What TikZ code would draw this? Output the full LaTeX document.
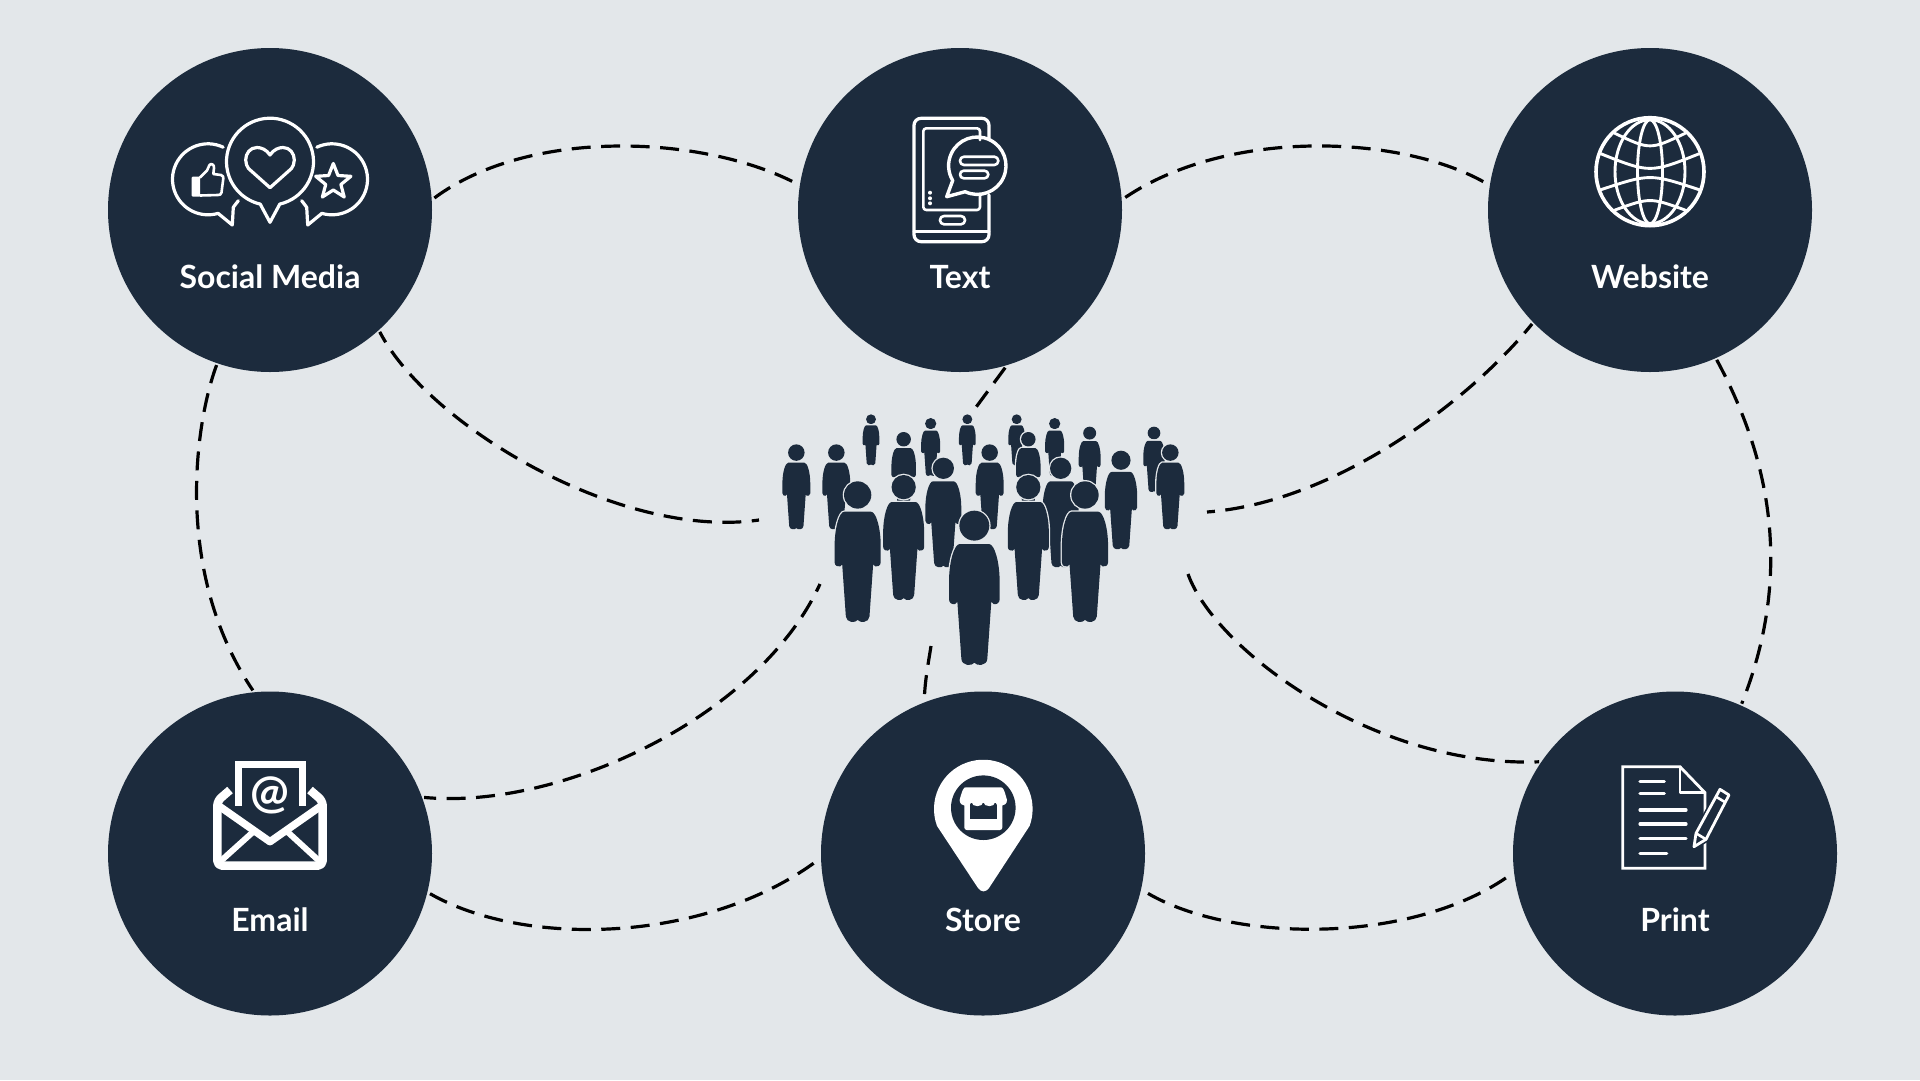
\documentclass[tikz,border=0pt]{standalone}
\usepackage{fontspec}
\setmainfont{Lato}
\definecolor{bgc}{HTML}{E3E7EA}
\definecolor{navy}{HTML}{1C2B3D}
\newcommand{\crowdfig}[3]{%
  \pgfmathsetmacro{\fx}{760+#1/3}%
  \pgfmathsetmacro{\fy}{400+#2/3}%
  \pgfmathsetmacro{\fs}{(#3-#2)/300}%
  \begin{scope}[shift={(\fx,\fy)},scale=\fs]
    \path[person] (0,9.7) circle (9.7);
    \path[person] (-9.5,21.6) -- (9.5,21.6) .. controls (13,21.6) and (16.4,33) .. (16.4,46) -- (16.4,57.5)
      .. controls (16.4,60) and (14,61) .. (12.5,60.5) -- (11,59) -- (8.4,96)
      .. controls (8.2,100.5) and (1.5,101) .. (0,98.5) .. controls (-1.5,101) and (-8.2,100.5) .. (-8.4,96)
      -- (-11,59) -- (-12.5,60.5) .. controls (-14,61) and (-16.4,60) .. (-16.4,57.5) -- (-16.4,46)
      .. controls (-16.4,33) and (-13,21.6) .. (-9.5,21.6) -- cycle;
  \end{scope}}
\tikzset{
  hub/.style={circle,fill=navy,minimum size=324pt,inner sep=0pt,outer sep=2pt},
  lbl/.style={anchor=base,text=white,font=\fontsize{32}{36}\selectfont\bfseries,inner sep=0pt},
  link/.style={draw=black,line width=3.2pt,dash pattern=on 19pt off 10.5pt},
  icon/.style={draw=white,line width=3.2pt,line cap=round,line join=round},
  person/.style={fill=navy,preaction={draw=bgc,line width=2.6pt}}
}
\begin{document}
\begin{tikzpicture}[x=1pt,y=-1pt]
\useasboundingbox (0,0) rectangle (1920,1080);
\fill[bgc] (0,0) rectangle (1920,1080);

% hubs
\node[hub] (soc) at (270,210) {};
\node[hub] (txt) at (960,210) {};
\node[hub] (web) at (1650,210) {};
\node[hub] (eml) at (270,853.5) {};
\node[hub] (sto) at (983,853.5) {};
\node[hub] (prt) at (1675,853.5) {};

% connector ends at the crowd
\coordinate (cl) at (759,520);
\coordinate (cr) at (1207,512);
\coordinate (ct) at (971,414);
\coordinate (cbl) at (820,584);
\coordinate (cb) at (931,646);
\coordinate (cbr) at (1188,574);

% connectors
\draw[link,shorten <=1pt] (soc.4.5) .. controls (530,127) and (705,135) .. (txt.171);
\draw[link,shorten <=2pt] (txt.4.5) .. controls (1230,127) and (1405,135) .. (web.171);
\draw[link,dash phase=7pt] (soc.-48.5) .. controls (428,425) and (620,540) .. (cl);
\draw[link] (txt.-74) -- (ct);
\draw[link,dash phase=7pt] (web.-136.5) .. controls (1475,395) and (1340,502) .. (cr);
\draw[link] (soc.-109) .. controls (196,420) and (172,570) .. (eml.96.7);
\draw[link] (web.-66) .. controls (1768,455) and (1795,570) .. (prt.66.5);
\draw[link,dash phase=7pt] (eml.20.7) .. controls (560,810) and (759,717) .. (cbl);
\draw[link] (cb) .. controls (928,665) and (925,680) .. (sto.111.6);
\draw[link] (cbr) .. controls (1215,650) and (1375,768) .. (prt.146);
\draw[link,shorten <=1pt,shorten >=4pt] (eml.-14) .. controls (525,948) and (705,943) .. (sto.182.5);
\draw[link,shorten <=6pt,shorten >=2pt] (sto.-13.7) .. controls (1233,943) and (1413,945) .. (prt.187.4);

% labels
\node[lbl] (socl) at (270,288) {Social Media};
\node[lbl] (txtl) at (960,288) {Text};
\node[lbl] (webl) at (1650,288) {Website};
\node[lbl] (emll) at (270,931) {Email};
\node[lbl] (stol) at (983,931) {Store};
\node[lbl] (prtl) at (1675,931) {Print};

% social media icon
\draw[icon] (270,161.7)++(77:43.5) arc[start angle=77,end angle=-257,radius=43.5] -- (270,222.3) -- cycle;
\draw[icon] (270,155) .. controls (273.5,149.5) and (279,147.5) .. (283,147.5)
  .. controls (290,147.5) and (294.3,153.5) .. (294.3,160) .. controls (294.3,163.5) and (293,166.5) .. (291.5,168.5)
  -- (270,187.7) -- (248.5,168.5) .. controls (247,166.5) and (245.7,163.5) .. (245.7,160)
  .. controls (245.7,153.5) and (250,147.5) .. (257,147.5) .. controls (261,147.5) and (266.5,149.5) .. (270,155) -- cycle;
\draw[icon] (208,179.3)++(-64.7:35.5) arc[start angle=-64.7,end angle=-286.5,radius=35.5] -- (232.3,225) -- (233.3,207.3) -- (238.3,200.7);
\draw[icon] (332,179.3)++(244.7:35.5) arc[start angle=244.7,end angle=466.5,radius=35.5] -- (307.7,225) -- (306.7,207.3) -- (301.7,200.7);
\fill[white,rounded corners=1pt] (191.7,176.7) rectangle (200,196.5);
\draw[icon,line width=2.6pt] (200,177.5) -- (207,170.5) -- (209.5,165) .. controls (211,163) and (214.5,164.5) .. (214,168) -- (213.3,174)
  -- (221,175) .. controls (223,175.5) and (223.6,177) .. (223.3,178.5) -- (221.5,192.5) .. controls (221,194.5) and (220,195) .. (218,195) -- (200,195.5);
\draw[icon] (333.3,163.5) -- (338,175.5) -- (350.9,176.3) -- (340.9,184.5) -- (344.2,197) -- (333.3,190) -- (322.4,197) -- (325.7,184.5) -- (315.7,176.3) -- (328.6,175.5) -- cycle;

% text icon
\draw[icon,rounded corners=7pt] (989,138) -- (989,118.3) -- (914,118.3) -- (914,241.7) -- (989,241.7) -- (989,195);
\draw[icon,line width=2.6pt,rounded corners=3pt] (980,140) -- (980,128.3) -- (923.3,128.3) -- (923.3,210) -- (980,210) -- (980,196);
\draw[icon,line width=2.6pt] (914,231.7) -- (989,231.7);
\draw[icon,rounded corners=4pt,line width=2.6pt] (940,216) rectangle (965,224.3);
\fill[white] (930,192.7) circle (2) (930,198.3) circle (2) (930,203.3) circle (2);
\draw[icon,line width=3.4pt] (977.3,165.7)++(115:28.7) arc[start angle=115,end angle=-211,radius=28.7] -- (946.7,196.7) -- cycle;
\draw[icon,rounded corners=4pt,line width=2.6pt] (960,156.7) rectangle (998.3,165);
\draw[icon,rounded corners=3.8pt,line width=2.6pt] (960,170.7) rectangle (988.3,178.3);

% globe icon
\begin{scope}[shift={(1650,171.7)}]
  \draw[icon,line width=3.6pt] (0,0) circle (54);
  \draw[icon,line width=2.9pt] (0,0) circle [x radius=12.5,y radius=52];
  \draw[icon,line width=2.9pt] (0,0) circle [x radius=35,y radius=52];
  \draw[icon,line width=2.9pt] (-35,-38.3) .. controls (0,-21.7) .. (35,-38.3);
  \draw[icon,line width=2.9pt] (-50,-18.3) .. controls (0,1.7) .. (50,-18.3);
  \draw[icon,line width=2.9pt] (-50,18.3) .. controls (0,1.7) .. (50,18.3);
  \draw[icon,line width=2.9pt] (-35,38.3) .. controls (0,25.7) .. (35,38.3);
\end{scope}

% email icon
\draw[icon,line width=8.5pt,line cap=butt,rounded corners=5pt] (230,790) -- (217.3,801) -- (217.3,865.7) -- (322.7,865.7) -- (322.7,801) -- (310,790);
\draw[icon,line width=7pt,line cap=butt,line join=miter] (238,806) -- (238,764) -- (302.3,764) -- (302.3,806);
\draw[icon,line width=7.5pt,line cap=butt] (220,806.7) -- (270,841.7) -- (320,806.7);
\draw[icon,line width=6pt,line cap=butt] (220,861.7) -- (253.3,831.7);
\draw[icon,line width=6pt,line cap=butt] (320,861.7) -- (287.3,831.7);
\node[text=white,font=\fontsize{46}{48}\selectfont\bfseries,inner sep=0pt] (at) at (270,795) {@};

% store icon
\fill[white] (983.3,809)++(160:49.3) arc[start angle=160,end angle=380,radius=49.3] -- (989,888)
  .. controls (986,892.5) and (981,892.5) .. (978,888) -- cycle;
\fill[navy] (983.3,807.7) circle (32.3);
\fill[white,rounded corners=2.5pt] (964.3,800) -- (964.3,830) -- (1002.3,830) -- (1002.3,800) -- cycle;
\fill[navy] (970,803) rectangle (996.7,819.3);
\fill[white] (966,787.3) -- (1000.7,787.3) .. controls (1003,787.3) and (1004,789) .. (1007,800)
  .. controls (1007,807.5) and (995.5,807.5) .. (995.2,802) .. controls (995,807.5) and (983.6,807.5) .. (983.3,802)
  .. controls (983,807.5) and (971.8,807.5) .. (971.5,802) .. controls (971.2,807.5) and (959.6,807.5) .. (959.6,800)
  .. controls (962.6,789) and (963.6,787.3) .. (966,787.3) -- cycle;

% print icon
\draw[icon,line width=2.8pt,line cap=butt,line join=miter] (1622.7,766.7) -- (1680,766.7) -- (1705,792.7) -- (1705,868.3) -- (1622.7,868.3) -- cycle;
\draw[icon,line width=2.8pt,line cap=butt] (1680,766.7) -- (1680,792.7) -- (1705,792.7);
\draw[icon] (1640,781.7) -- (1664.3,781.7);
\draw[icon] (1640,793.3) -- (1664.3,793.3);
\draw[icon] (1640,810) -- (1686,810);
\draw[icon] (1640,824) -- (1686,824);
\draw[icon] (1640,838.7) -- (1686,838.7);
\draw[icon] (1640,853.3) -- (1666.7,853.3);
\draw[navy,fill=navy,line width=6pt] (1694,846.7) -- (1696,833.3) -- (1720,789.3) -- (1729,795) -- (1706,839.3) -- cycle;
\draw[icon,line width=2.8pt] (1694,846.7) -- (1696,833.3) -- (1720,789.3) -- (1729,795) -- (1706,839.3) -- cycle;
\draw[icon,line width=2.6pt] (1696,833.3) -- (1706,839.3);
\draw[icon,line width=2.6pt] (1716,796.7) -- (1724.3,801.7);

% crowd
\crowdfig{333}{43}{196}
\crowdfig{512}{54}{228}
\crowdfig{622}{43}{196}
\crowdfig{770}{43}{196}
\crowdfig{884}{54}{228}
\crowdfig{1182}{80}{276}
\crowdfig{989}{80}{280}
\crowdfig{431}{96}{320}
\crowdfig{805}{96}{320}
\crowdfig{109}{133}{388}
\crowdfig{229}{133}{388}
\crowdfig{689}{133}{388}
\crowdfig{1231}{133}{388}
\crowdfig{1083}{152}{448}
\crowdfig{550}{173}{502}
\crowdfig{902}{173}{502}
\crowdfig{431}{225}{600}
\crowdfig{805}{225}{600}
\crowdfig{293}{244}{666}
\crowdfig{975}{244}{666}
\crowdfig{643}{332}{795}
\end{tikzpicture}
\end{document}
